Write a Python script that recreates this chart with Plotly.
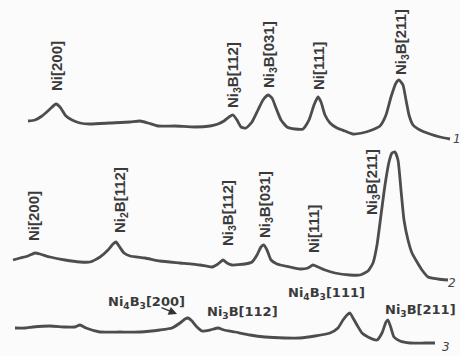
import plotly.graph_objects as go

# ---- data: three XRD patterns (x = scan position, y = trace level, axis reversed) ----
x1 = [28,35,42,50,56,60,66,72,80,90,110,130,140,148,158,175,195,210,218,224,229,233,237,241,246,252,258,263,268,272,276,281,287,295,303,309,314,318,321,325,330,337,345,353,362,372,380,386,391,396,399,403,406,409,413,420,430,440,450]
y1 = [121,120,116,109,104,107,116,120,123,124,123,122,121,123,126,126,127,126,124,121,117,115,120,127,128,122,110,100,95,98,108,120,127,129,129,120,105,97,102,115,123,128,131,134,133,130,126,115,97,83,80,85,100,115,125,130,134,137,139]

x2 = [13,20,28,35,40,50,65,80,90,100,108,113,116,119,124,130,145,160,180,200,212,218,223,227,232,245,252,257,261,264,267,271,277,290,300,308,313,318,325,335,350,360,368,373,377,381,385,389,392,395,398,401,404,408,412,417,422,428,438,448]
y2 = [260,258,256,253,254,257,260,262,262,257,250,244,242,246,253,256,258,261,263,265,267,264,260,263,265,264,262,255,247,245,250,260,264,267,269,268,265,267,270,273,275,275,271,263,245,215,185,162,153,152,160,190,220,240,253,262,270,277,279,280]

x3 = [15,25,33,50,65,75,80,86,100,120,140,160,172,180,185,188,192,197,202,210,218,224,235,250,265,285,300,315,330,338,343,347,350,353,357,362,368,377,382,386,388,391,394,400,410,425,435]
y3 = [328,328,327,326,327,327,325,328,332,332,332,330,328,323,319,318,321,327,331,330,328,330,332,335,337,338,338,336,333,328,320,315,313,318,325,333,337,340,333,322,320,328,337,341,343,343,343]

# vertical peak labels: (x, y_center, text)
vlabels = [
    (56, 66, "Ni[200]"),
    (233, 75, "Ni<sub>3</sub>B[112]"),
    (269, 55, "Ni<sub>3</sub>B[031]"),
    (318, 66, "Ni[111]"),
    (401, 42, "Ni<sub>3</sub>B[211]"),
    (33, 216, "Ni[200]"),
    (120, 200, "Ni<sub>2</sub>B[112]"),
    (228, 213, "Ni<sub>3</sub>B[112]"),
    (265, 205, "Ni<sub>3</sub>B[031]"),
    (313, 229, "Ni[111]"),
    (372, 182, "Ni<sub>3</sub>B[211]"),
]
# horizontal peak labels: (x_center, y_center, text)
hlabels = [
    (146, 302, "Ni<sub>4</sub>B<sub>3</sub>[200]"),
    (242, 312, "Ni<sub>3</sub>B[112]"),
    (326, 293, "Ni<sub>4</sub>B<sub>3</sub>[111]"),
    (420, 310, "Ni<sub>3</sub>B[211]"),
]
curve_ids = [(457, 139, "1"), (452, 283, "2"), (446, 347, "3")]

fig = go.Figure()
for xs, ys in [(x1, y1), (x2, y2), (x3, y3)]:
    fig.add_trace(go.Scatter(x=xs, y=ys, mode="lines",
                             line=dict(color="#4d4d4d", width=2.8, shape="spline", smoothing=0.5),
                             hoverinfo="skip", showlegend=False))

font_v = dict(family="Liberation Sans Narrow, Liberation Sans, Arial", size=15, color="#3a3a3a")
for x, y, t in vlabels:
    fig.add_annotation(x=x, y=y, text="<b>" + t + "</b>", textangle=-90, showarrow=False,
                       font=font_v, xanchor="center", yanchor="middle")

font_h = dict(family="DejaVu Sans", size=13, color="#3a3a3a")
for x, y, t in hlabels:
    fig.add_annotation(x=x, y=y, text="<b>" + t + "</b>", showarrow=False,
                       font=font_h, xanchor="center", yanchor="middle")

# arrow pointing at Ni4B3[200] peak
fig.add_annotation(x=177, y=314, ax=160, ay=307, axref="x", ayref="y", text="",
                   showarrow=True, arrowhead=2, arrowsize=1.4, arrowwidth=1.2, arrowcolor="#333333")

for x, y, t in curve_ids:
    fig.add_annotation(x=x, y=y, text="<i>" + t + "</i>", showarrow=False,
                       font=dict(family="DejaVu Sans", size=12, color="#444444"))

fig.update_layout(
    width=460, height=356, margin=dict(l=0, r=0, t=0, b=0),
    paper_bgcolor="#fbfbfb", plot_bgcolor="#fbfbfb",
    xaxis=dict(range=[0, 460], visible=False, fixedrange=True),
    yaxis=dict(range=[356, 0], visible=False, fixedrange=True),
)
fig.write_html("out.html")
